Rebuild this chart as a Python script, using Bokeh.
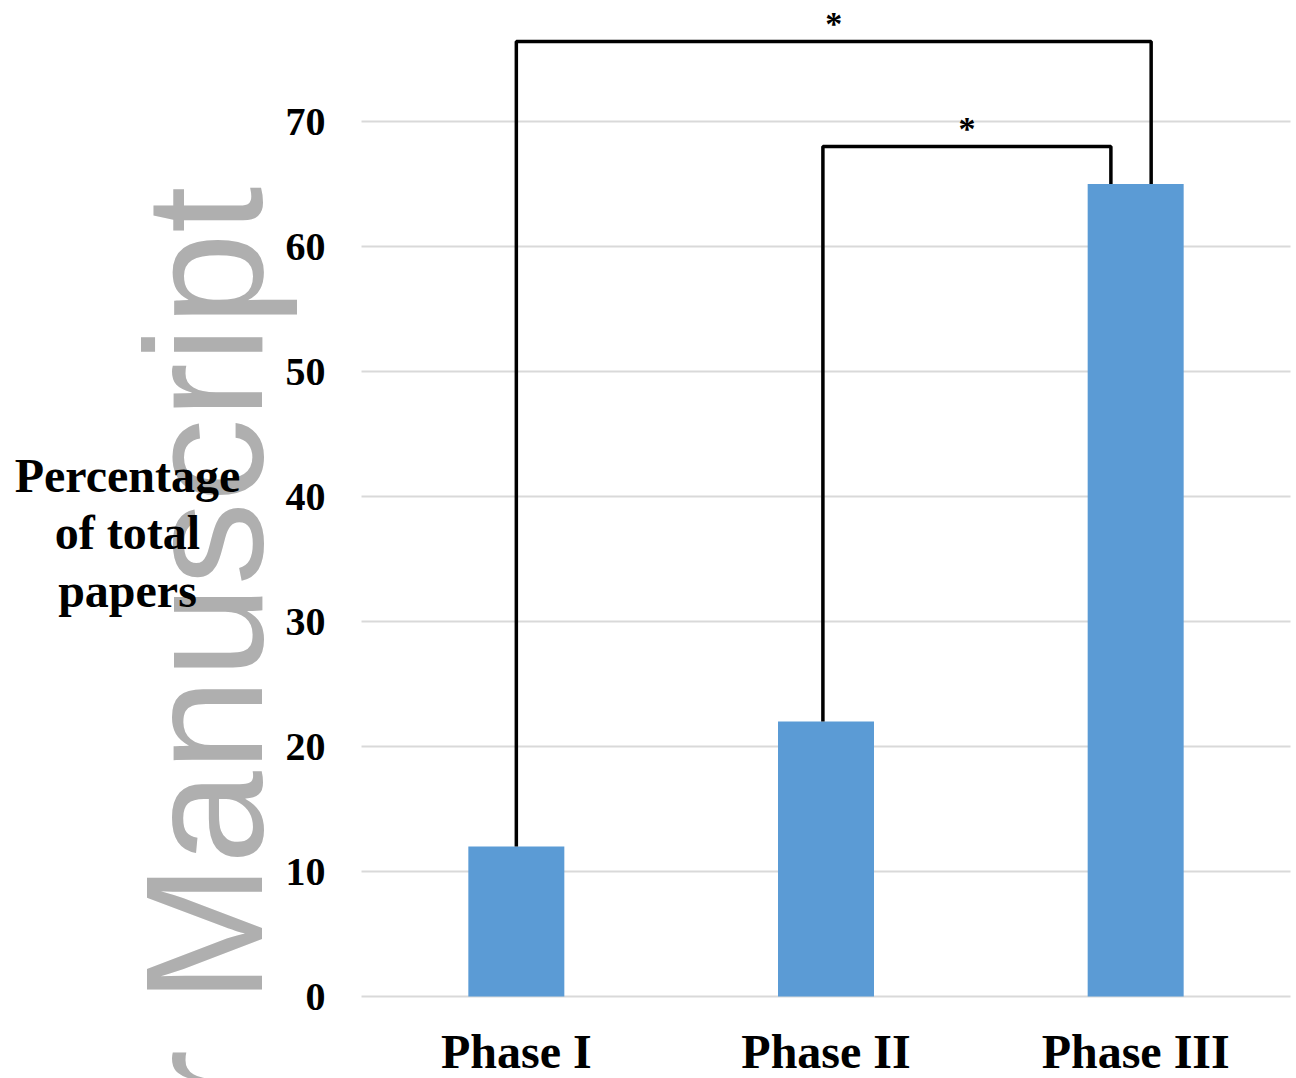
import math
from bokeh.plotting import figure
from bokeh.models import Range1d
from bokeh.embed import file_html
from bokeh.resources import INLINE
from bokeh.core.properties import value

# ---- data ----
categories = ["Phase I", "Phase II", "Phase III"]
percentages = [12, 22, 65]
y_ticks = [0, 10, 20, 30, 40, 50, 60, 70]
y_tick_labels = ["0", "10", "20", "30", "40", "50", "60", "70"]

# significance brackets
bracket_left = [0, 1]          # index of left category
bracket_right = [2, 2]         # index of right category
bracket_height = [76.4, 68.0]  # height of horizontal bar
bracket_left_shift = [0.0, -0.01]
bracket_right_shift = [0.05, -0.08]
bracket_label = ["*", "*"]

title_lines = ["Percentage", "of total", "papers"]
title_line_y = [41.7, 37.1, 32.5]
watermark_text = ["r Manuscript"]

# ---- layout geometry (pixels) ----
W, H = 1296, 1078
plot_left, plot_right = 361, 1290      # category band area
zero_px = 996                          # pixel row of value 0
px_per_unit_y = 12.5
n = len(categories)
units_per_px = n / (plot_right - plot_left)
x_start = -0.5 - plot_left * units_per_px
x_end = (n - 0.5) + (W - plot_right) * units_per_px
y_start = -(H - zero_px) / px_per_unit_y
y_end = zero_px / px_per_unit_y

x_pos = list(range(n))
p = figure(width=W, height=H, output_backend="svg", toolbar_location=None,
           x_range=Range1d(x_start, x_end), y_range=Range1d(y_start, y_end),
           min_border_left=0, min_border_right=0, min_border_top=0,
           min_border_bottom=0)
p.outline_line_color = None
p.background_fill_color = "white"
p.border_fill_color = "white"
p.xgrid.grid_line_color = None
p.ygrid.grid_line_color = None
p.xaxis.visible = False
p.yaxis.visible = False

def px_to_x(px):
    return x_start + px * units_per_px

# watermark (behind everything)
p.text(x=[px_to_x(203)], y=[64.8], text=watermark_text, angle=math.pi / 2,
       text_align="right", text_baseline="alphabetic",
       text_font=value("Liberation Sans"), text_font_size="167px",
       text_color="#afafaf")

# gridlines across the category bands
p.segment(x0=[-0.5] * len(y_ticks), x1=[n - 0.5] * len(y_ticks), y0=y_ticks, y1=y_ticks,
          line_color="#d9d9d9", line_width=2)

# y tick labels
p.text(x=[-0.5] * len(y_ticks), y=y_ticks, text=y_tick_labels, x_offset=-36,
       text_align="right", text_baseline="middle",
       text_font=value("Liberation Serif"), text_font_style="bold",
       text_font_size="40px", text_color="black")

# y-axis title
p.text(x=[px_to_x(127)] * len(title_lines), y=title_line_y, text=title_lines,
       text_align="center", text_baseline="middle",
       text_font=value("Liberation Serif"), text_font_style="bold",
       text_font_size="48px", text_color="black")

# bars
p.vbar(x=x_pos, top=percentages, width=0.31, fill_color="#5b9bd5", line_color=None)

# brackets
xs, ys, sx, sy = [], [], [], []
for l, r, h, ls, rs in zip(bracket_left, bracket_right, bracket_height,
                            bracket_left_shift, bracket_right_shift):
    xl = x_pos[l] + ls
    xr = x_pos[r] + rs
    xs.append([xl, xl, xr, xr])
    ys.append([percentages[l], h, h, percentages[r]])
    sx.append((xl + xr) / 2)
    sy.append(h)
p.multi_line(xs=xs, ys=ys, line_color="black", line_width=3.5)
p.text(x=sx, y=sy, text=bracket_label, text_align="center", text_baseline="bottom",
       text_font=value("Liberation Serif"), text_font_style="bold",
       text_font_size="34px", text_color="black")

# category labels
p.text(x=x_pos, y=[0] * n, text=categories, y_offset=55,
       text_align="center", text_baseline="alphabetic",
       text_font=value("Liberation Serif"), text_font_style="bold",
       text_font_size="48px", text_color="black")

open("out.html", "w").write(file_html(p, INLINE))
